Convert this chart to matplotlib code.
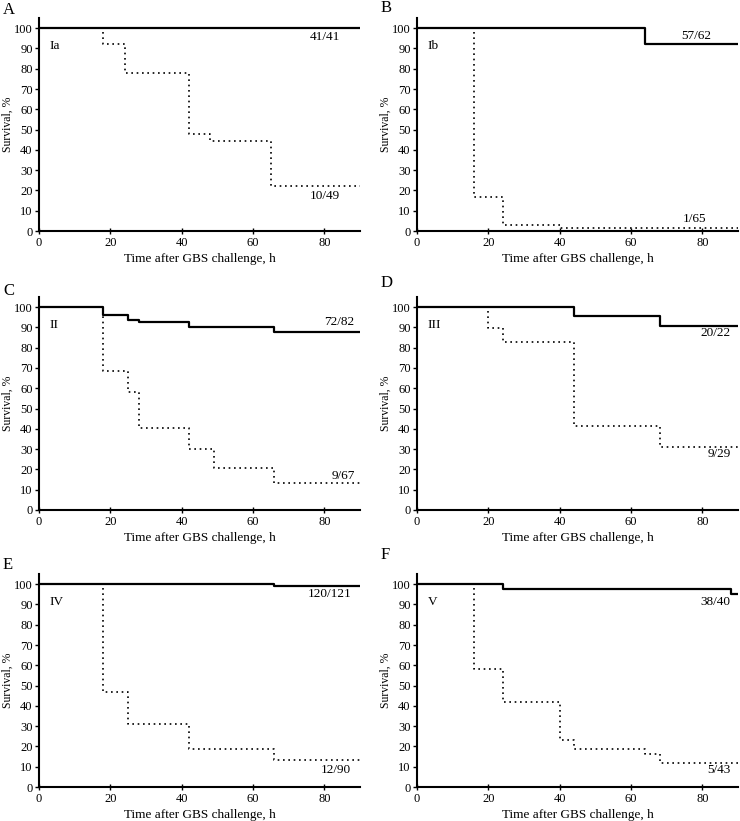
import matplotlib.pyplot as plt
import numpy as np

plt.rcParams['font.family'] = ['Liberation Serif', 'DejaVu Serif']

# data: step times (h) and survival (%) after each step
panels = ['A', 'B', 'C', 'D', 'E', 'F']
serotypes = ['Ia', 'Ib', 'II', 'III', 'IV', 'V']

solid_t = [[0], [0, 64], [0, 18, 25, 28, 42, 66], [0, 44, 68], [0, 66], [0, 24, 88]]
solid_s = [[100], [100, 92], [100, 96.3, 93.9, 92.7, 90.2, 87.8], [100, 95.5, 90.9],
           [100, 99.2], [100, 97.5, 95]]

dotted_t = [[18, 24, 42, 48, 65], [16, 24, 40], [18, 25, 28, 42, 49, 66],
            [20, 24, 44, 68], [18, 25, 42, 66], [16, 24, 40, 44, 64, 68]]
dotted_s = [[92, 78, 48, 44.5, 22.4], [17, 3, 1.5], [68.7, 58.2, 40.3, 29.9, 20.9, 13.4],
            [89.7, 82.8, 41.4, 31], [46.7, 31.1, 18.9, 13.3], [58, 42, 23, 18.6, 16.3, 11.6]]

solid_labels = ['41/41', '57/62', '72/82', '20/22', '120/121', '38/40']
solid_label_x = [84.5, 82.5, 88.5, 88, 87.5, 88]
solid_label_y = [95.5, 96, 92.5, 87.2, 95, 91]
dotted_labels = ['10/49', '1/65', '9/67', '9/29', '12/90', '5/43']
dotted_label_x = [84.5, 81, 88.5, 88, 87.5, 88]
dotted_label_y = [17.3, 6, 16.7, 27.5, 8.3, 8.3]

W, H = 740, 821
fig = plt.figure(figsize=(W / 100, H / 100), dpi=100)

lefts = [39, 417]
bottoms = [231, 510, 787]
aw, ah = 321, 213
letter_y = [10, 8, 291, 283, 565, 555]

for i in range(6):
    col, row = i % 2, i // 2
    ax = fig.add_axes([lefts[col] / W, 1 - bottoms[row] / H, aw / W, ah / H])

    st = solid_t[i] + [90]
    ss = solid_s[i] + [solid_s[i][-1]]
    ax.step(st, ss, where='post', color='black', lw=1.6, zorder=3)

    dt = [dotted_t[i][0]] + dotted_t[i] + [90]
    ds = [98] + dotted_s[i] + [dotted_s[i][-1]]
    ax.step(dt, ds, where='post', color='black', lw=1.2,
            linestyle=(0, (1, 2.2)), zorder=2)

    ax.text(solid_label_x[i], solid_label_y[i], solid_labels[i],
            ha='right', va='center', fontsize=9.5)
    ax.text(dotted_label_x[i], dotted_label_y[i], dotted_labels[i],
            ha='right', va='center', fontsize=9.5)
    ax.text(3, 91, serotypes[i], ha='left', va='center', fontsize=9.5)

    ax.set_xlim(0, 90)
    ax.set_ylim(0, 105)
    ax.set_yticks(np.arange(0, 101, 10))
    ax.set_xticks([0, 20, 40, 60, 80])
    for s in ['top', 'right']:
        ax.spines[s].set_visible(False)
    for s in ['left', 'bottom']:
        ax.spines[s].set_linewidth(1.5)
    ax.tick_params(axis='y', direction='out', length=3, width=1, labelsize=9, pad=1.5)
    ax.tick_params(axis='x', direction='inout', length=4, width=1, labelsize=9, pad=2)
    ax.set_ylabel('Survival, %', fontsize=8.5, labelpad=0.5)
    ax.set_xlabel('Time after GBS challenge, h', fontsize=9.5, labelpad=3)

    fig.text((lefts[col] - 36) / W, 1 - letter_y[i] / H, panels[i],
             fontsize=12, ha='left', va='center')

fig.savefig('out.png', dpi=100)
